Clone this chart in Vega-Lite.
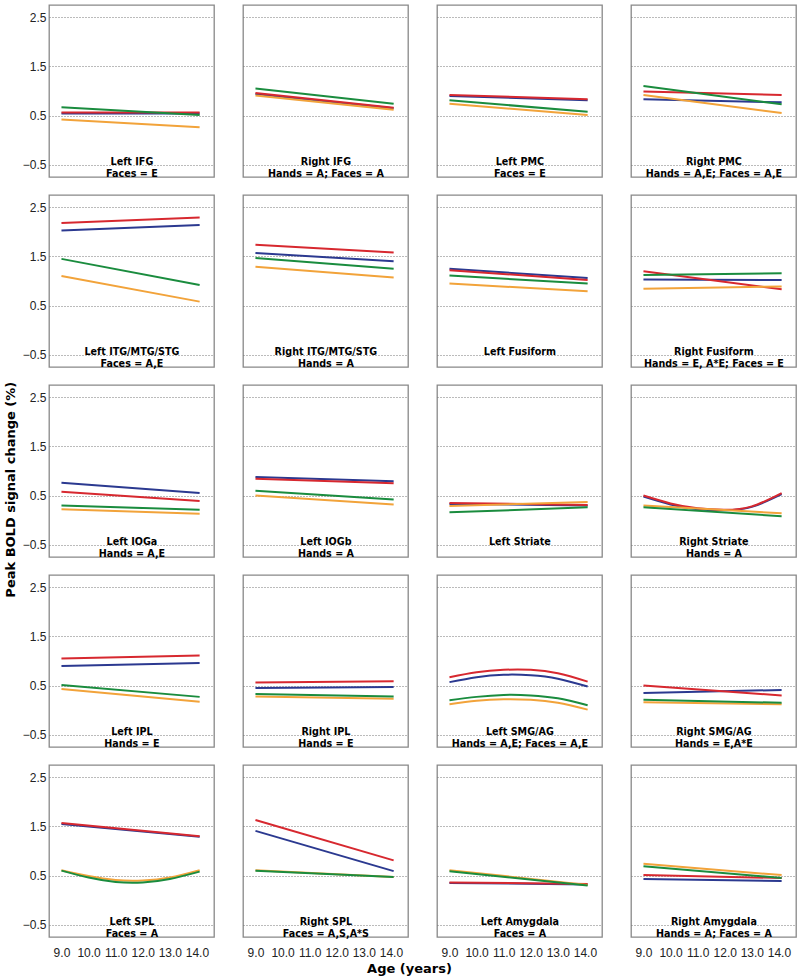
{
  "$schema": "https://vega.github.io/schema/vega-lite/v6.json",
  "padding": {"left": 5, "top": 3, "right": 2, "bottom": 0},
  "datasets": {
    "lines": [
      {"p": 1, "t": "Left IFG\nFaces = E"},
      {"p": 2, "t": "Right IFG\nHands = A; Faces = A"},
      {"p": 3, "t": "Left PMC\nFaces = E"},
      {"p": 4, "t": "Right PMC\nHands = A,E; Faces = A,E"},
      {"p": 5, "t": "Left ITG/MTG/STG\nFaces = A,E"},
      {"p": 6, "t": "Right ITG/MTG/STG\nHands = A"},
      {"p": 7, "t": "Left Fusiform"},
      {"p": 8, "t": "Right Fusiform\nHands = E, A*E; Faces = E"},
      {"p": 9, "t": "Left IOGa\nHands = A,E"},
      {"p": 10, "t": "Left IOGb\nHands = A"},
      {"p": 11, "t": "Left Striate"},
      {"p": 12, "t": "Right Striate\nHands = A"},
      {"p": 13, "t": "Left IPL\nHands = E"},
      {"p": 14, "t": "Right IPL\nHands = E"},
      {"p": 15, "t": "Left SMG/AG\nHands = A,E; Faces = A,E"},
      {"p": 16, "t": "Right SMG/AG\nHands = E,A*E"},
      {"p": 17, "t": "Left SPL\nFaces = A"},
      {"p": 18, "t": "Right SPL\nFaces = A,S,A*S"},
      {"p": 19, "t": "Left Amygdala\nFaces = A"},
      {"p": 20, "t": "Right Amygdala\nHands = A; Faces = A"},

      {"p":1,"g":"blue","a":9,"v":0.54},{"p":1,"g":"blue","a":14.1,"v":0.54},
      {"p":1,"g":"red","a":9,"v":0.56},{"p":1,"g":"red","a":14.1,"v":0.56},
      {"p":1,"g":"orange","a":9,"v":0.42},{"p":1,"g":"orange","a":14.1,"v":0.26},
      {"p":1,"g":"green","a":9,"v":0.67},{"p":1,"g":"green","a":14.1,"v":0.51},

      {"p":2,"g":"blue","a":9,"v":0.94},{"p":2,"g":"blue","a":14.1,"v":0.65},
      {"p":2,"g":"red","a":9,"v":0.96},{"p":2,"g":"red","a":14.1,"v":0.66},
      {"p":2,"g":"orange","a":9,"v":0.91},{"p":2,"g":"orange","a":14.1,"v":0.62},
      {"p":2,"g":"green","a":9,"v":1.05},{"p":2,"g":"green","a":14.1,"v":0.74},

      {"p":3,"g":"blue","a":9,"v":0.90},{"p":3,"g":"blue","a":14.1,"v":0.81},
      {"p":3,"g":"red","a":9,"v":0.92},{"p":3,"g":"red","a":14.1,"v":0.83},
      {"p":3,"g":"orange","a":9,"v":0.74},{"p":3,"g":"orange","a":14.1,"v":0.51},
      {"p":3,"g":"green","a":9,"v":0.81},{"p":3,"g":"green","a":14.1,"v":0.58},

      {"p":4,"g":"blue","a":9,"v":0.83},{"p":4,"g":"blue","a":14.1,"v":0.77},
      {"p":4,"g":"red","a":9,"v":0.99},{"p":4,"g":"red","a":14.1,"v":0.92},
      {"p":4,"g":"orange","a":9,"v":0.92},{"p":4,"g":"orange","a":14.1,"v":0.55},
      {"p":4,"g":"green","a":9,"v":1.10},{"p":4,"g":"green","a":14.1,"v":0.73},

      {"p":5,"g":"blue","a":9,"v":2.03},{"p":5,"g":"blue","a":14.1,"v":2.14},
      {"p":5,"g":"red","a":9,"v":2.18},{"p":5,"g":"red","a":14.1,"v":2.29},
      {"p":5,"g":"orange","a":9,"v":1.10},{"p":5,"g":"orange","a":14.1,"v":0.58},
      {"p":5,"g":"green","a":9,"v":1.45},{"p":5,"g":"green","a":14.1,"v":0.92},

      {"p":6,"g":"blue","a":9,"v":1.57},{"p":6,"g":"blue","a":14.1,"v":1.40},
      {"p":6,"g":"red","a":9,"v":1.74},{"p":6,"g":"red","a":14.1,"v":1.58},
      {"p":6,"g":"orange","a":9,"v":1.29},{"p":6,"g":"orange","a":14.1,"v":1.07},
      {"p":6,"g":"green","a":9,"v":1.47},{"p":6,"g":"green","a":14.1,"v":1.25},

      {"p":7,"g":"blue","a":9,"v":1.25},{"p":7,"g":"blue","a":14.1,"v":1.06},
      {"p":7,"g":"red","a":9,"v":1.22},{"p":7,"g":"red","a":14.1,"v":1.02},
      {"p":7,"g":"orange","a":9,"v":0.95},{"p":7,"g":"orange","a":14.1,"v":0.79},
      {"p":7,"g":"green","a":9,"v":1.11},{"p":7,"g":"green","a":14.1,"v":0.95},

      {"p":8,"g":"blue","a":9,"v":1.03},{"p":8,"g":"blue","a":14.1,"v":1.02},
      {"p":8,"g":"red","a":9,"v":1.20},{"p":8,"g":"red","a":14.1,"v":0.83},
      {"p":8,"g":"orange","a":9,"v":0.84},{"p":8,"g":"orange","a":14.1,"v":0.89},
      {"p":8,"g":"green","a":9,"v":1.12},{"p":8,"g":"green","a":14.1,"v":1.16},

      {"p":9,"g":"blue","a":9,"v":0.76},{"p":9,"g":"blue","a":14.1,"v":0.55},
      {"p":9,"g":"red","a":9,"v":0.58},{"p":9,"g":"red","a":14.1,"v":0.39},
      {"p":9,"g":"orange","a":9,"v":0.22},{"p":9,"g":"orange","a":14.1,"v":0.13},
      {"p":9,"g":"green","a":9,"v":0.30},{"p":9,"g":"green","a":14.1,"v":0.21},

      {"p":10,"g":"blue","a":9,"v":0.88},{"p":10,"g":"blue","a":14.1,"v":0.79},
      {"p":10,"g":"red","a":9,"v":0.84},{"p":10,"g":"red","a":14.1,"v":0.75},
      {"p":10,"g":"orange","a":9,"v":0.50},{"p":10,"g":"orange","a":14.1,"v":0.32},
      {"p":10,"g":"green","a":9,"v":0.60},{"p":10,"g":"green","a":14.1,"v":0.42},

      {"p":11,"g":"blue","a":9,"v":0.33},{"p":11,"g":"blue","a":14.1,"v":0.30},
      {"p":11,"g":"red","a":9,"v":0.35},{"p":11,"g":"red","a":14.1,"v":0.31},
      {"p":11,"g":"orange","a":9,"v":0.29},{"p":11,"g":"orange","a":14.1,"v":0.37},
      {"p":11,"g":"green","a":9,"v":0.16},{"p":11,"g":"green","a":14.1,"v":0.26},

      {"p":12,"g":"blue","a":9,"v":0.48},{"p":12,"g":"blue","a":10,"v":0.32},{"p":12,"g":"blue","a":11,"v":0.22},{"p":12,"g":"blue","a":12,"v":0.20},{"p":12,"g":"blue","a":13,"v":0.27},{"p":12,"g":"blue","a":14.1,"v":0.53},
      {"p":12,"g":"red","a":9,"v":0.50},{"p":12,"g":"red","a":10,"v":0.34},{"p":12,"g":"red","a":11,"v":0.24},{"p":12,"g":"red","a":12,"v":0.21},{"p":12,"g":"red","a":13,"v":0.28},{"p":12,"g":"red","a":14.1,"v":0.55},
      {"p":12,"g":"orange","a":9,"v":0.30},{"p":12,"g":"orange","a":14.1,"v":0.14},
      {"p":12,"g":"green","a":9,"v":0.26},{"p":12,"g":"green","a":14.1,"v":0.08},

      {"p":13,"g":"blue","a":9,"v":0.90},{"p":13,"g":"blue","a":14.1,"v":0.96},
      {"p":13,"g":"red","a":9,"v":1.05},{"p":13,"g":"red","a":14.1,"v":1.11},
      {"p":13,"g":"orange","a":9,"v":0.43},{"p":13,"g":"orange","a":14.1,"v":0.17},
      {"p":13,"g":"green","a":9,"v":0.51},{"p":13,"g":"green","a":14.1,"v":0.27},

      {"p":14,"g":"blue","a":9,"v":0.45},{"p":14,"g":"blue","a":14.1,"v":0.47},
      {"p":14,"g":"red","a":9,"v":0.56},{"p":14,"g":"red","a":14.1,"v":0.59},
      {"p":14,"g":"orange","a":9,"v":0.28},{"p":14,"g":"orange","a":14.1,"v":0.23},
      {"p":14,"g":"green","a":9,"v":0.33},{"p":14,"g":"green","a":14.1,"v":0.28},

      {"p":15,"g":"blue","a":9,"v":0.57},{"p":15,"g":"blue","a":10,"v":0.67},{"p":15,"g":"blue","a":11,"v":0.72},{"p":15,"g":"blue","a":12,"v":0.71},{"p":15,"g":"blue","a":13,"v":0.64},{"p":15,"g":"blue","a":14.1,"v":0.48},
      {"p":15,"g":"red","a":9,"v":0.67},{"p":15,"g":"red","a":10,"v":0.77},{"p":15,"g":"red","a":11,"v":0.82},{"p":15,"g":"red","a":12,"v":0.82},{"p":15,"g":"red","a":13,"v":0.75},{"p":15,"g":"red","a":14.1,"v":0.58},
      {"p":15,"g":"orange","a":9,"v":0.12},{"p":15,"g":"orange","a":10,"v":0.19},{"p":15,"g":"orange","a":11,"v":0.22},{"p":15,"g":"orange","a":12,"v":0.21},{"p":15,"g":"orange","a":13,"v":0.15},{"p":15,"g":"orange","a":14.1,"v":0.01},
      {"p":15,"g":"green","a":9,"v":0.20},{"p":15,"g":"green","a":10,"v":0.27},{"p":15,"g":"green","a":11,"v":0.31},{"p":15,"g":"green","a":12,"v":0.30},{"p":15,"g":"green","a":13,"v":0.24},{"p":15,"g":"green","a":14.1,"v":0.10},

      {"p":16,"g":"blue","a":9,"v":0.35},{"p":16,"g":"blue","a":14.1,"v":0.41},
      {"p":16,"g":"red","a":9,"v":0.50},{"p":16,"g":"red","a":14.1,"v":0.30},
      {"p":16,"g":"orange","a":9,"v":0.16},{"p":16,"g":"orange","a":14.1,"v":0.12},
      {"p":16,"g":"green","a":9,"v":0.21},{"p":16,"g":"green","a":14.1,"v":0.15},

      {"p":17,"g":"blue","a":9,"v":1.55},{"p":17,"g":"blue","a":14.1,"v":1.29},
      {"p":17,"g":"red","a":9,"v":1.57},{"p":17,"g":"red","a":14.1,"v":1.30},
      {"p":17,"g":"orange","a":9,"v":0.61},{"p":17,"g":"orange","a":10,"v":0.49},{"p":17,"g":"orange","a":11,"v":0.41},{"p":17,"g":"orange","a":12,"v":0.40},{"p":17,"g":"orange","a":13,"v":0.46},{"p":17,"g":"orange","a":14.1,"v":0.61},
      {"p":17,"g":"green","a":9,"v":0.60},{"p":17,"g":"green","a":10,"v":0.46},{"p":17,"g":"green","a":11,"v":0.37},{"p":17,"g":"green","a":12,"v":0.36},{"p":17,"g":"green","a":13,"v":0.43},{"p":17,"g":"green","a":14.1,"v":0.58},

      {"p":18,"g":"blue","a":9,"v":1.41},{"p":18,"g":"blue","a":14.1,"v":0.59},
      {"p":18,"g":"red","a":9,"v":1.63},{"p":18,"g":"red","a":14.1,"v":0.81},
      {"p":18,"g":"orange","a":9,"v":0.61},{"p":18,"g":"orange","a":14.1,"v":0.47},
      {"p":18,"g":"green","a":9,"v":0.60},{"p":18,"g":"green","a":14.1,"v":0.47},

      {"p":19,"g":"blue","a":9,"v":0.35},{"p":19,"g":"blue","a":14.1,"v":0.32},
      {"p":19,"g":"red","a":9,"v":0.36},{"p":19,"g":"red","a":14.1,"v":0.33},
      {"p":19,"g":"orange","a":9,"v":0.61},{"p":19,"g":"orange","a":14.1,"v":0.31},
      {"p":19,"g":"green","a":9,"v":0.59},{"p":19,"g":"green","a":14.1,"v":0.30},

      {"p":20,"g":"blue","a":9,"v":0.43},{"p":20,"g":"blue","a":14.1,"v":0.39},
      {"p":20,"g":"red","a":9,"v":0.51},{"p":20,"g":"red","a":14.1,"v":0.45},
      {"p":20,"g":"orange","a":9,"v":0.74},{"p":20,"g":"orange","a":14.1,"v":0.51},
      {"p":20,"g":"green","a":9,"v":0.69},{"p":20,"g":"green","a":14.1,"v":0.45}
    ]
  },
  "title": {"text": "Peak BOLD signal change (%)", "orient": "left", "anchor": "middle", "font": "DejaVu Sans", "fontSize": 13, "fontWeight": "bold", "color": "#000", "offset": 4},
  "vconcat": [
    {
      "data": {"name": "lines"},
      "title": {"text": "Age (years)", "orient": "bottom", "anchor": "middle", "font": "DejaVu Sans", "fontSize": 13, "fontWeight": "bold", "color": "#000", "offset": 5},
      "facet": {"field": "p", "type": "ordinal", "sort": "ascending", "title": null, "header": {"labelExpr": "''", "labelFontSize": 1, "labelPadding": 0, "title": null}},
      "columns": 4,
      "spacing": {"row": 13, "column": 27},
      "spec": {
        "width": 165,
        "height": 172,
        "layer": [
          {
            "transform": [{"filter": "isValid(datum.g)"}],
            "mark": {"type": "line", "strokeWidth": 2, "interpolate": "natural"},
            "encoding": {
              "x": {"field": "a", "type": "quantitative", "scale": {"domain": [8.54, 14.63], "nice": false, "zero": false},
                    "axis": {"values": [9, 10, 11, 12, 13, 14], "tickCount": 12, "labelOverlap": false, "labelSeparation": 0, "labelBound": false, "labelFlush": false, "title": null, "grid": false, "domain": false, "ticks": false, "labelPadding": 7, "labelFont": "Liberation Sans", "labelFontSize": 12, "labelColor": "#222"}},
              "y": {"field": "v", "type": "quantitative", "scale": {"domain": [-0.75, 2.75], "nice": false, "zero": false},
                    "axis": {"values": [-0.5, 0.5, 1.5, 2.5], "tickCount": 8, "labelOverlap": false, "format": ".1f", "title": null, "grid": true, "gridDash": [1, 2], "gridColor": "#777", "gridWidth": 1, "domain": false, "ticks": false, "labelPadding": 2, "labelFont": "Liberation Sans", "labelFontSize": 12, "labelColor": "#222"}},
              "color": {"field": "g", "type": "nominal", "legend": null,
                        "scale": {"domain": ["blue", "red", "orange", "green"], "range": ["#2b3990", "#d7282f", "#f2a33a", "#1a8c3e"]}}
            }
          },
          {
            "transform": [{"filter": "isValid(datum.t)"}],
            "mark": {"type": "text", "lineBreak": "\n", "baseline": "top", "align": "center", "font": "DejaVu Sans", "fontWeight": "bold", "fontSize": 9.6, "lineHeight": 11.5, "color": "#000"},
            "encoding": {
              "x": {"datum": 11.6, "type": "quantitative"},
              "y": {"datum": -0.35, "type": "quantitative"},
              "text": {"field": "t", "type": "nominal"}
            }
          }
        ]
      }
    }
  ],
  "config": {
    "view": {"stroke": "#888", "strokeWidth": 1.3},
    "axisX": {"labelOverlap": false},
    "background": "white"
  }
}
